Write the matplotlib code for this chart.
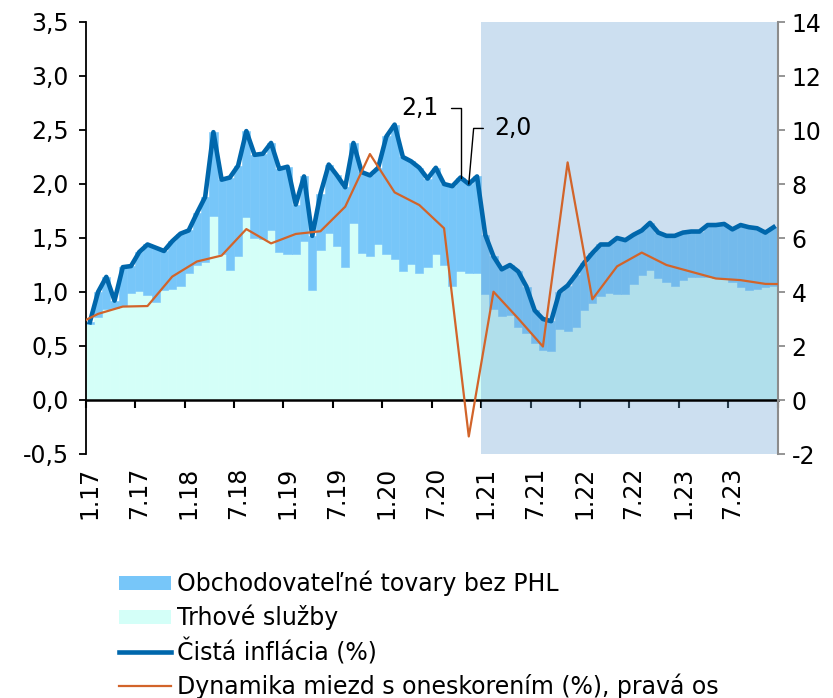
import matplotlib.pyplot as plt
import numpy as np
from matplotlib.patches import Patch
from matplotlib.lines import Line2D

plt.rcParams["axes.unicode_minus"] = False

# mesacne udaje 1.17 - 12.23
mesiace = [f"{m}.{r}" for r in range(17, 24) for m in range(1, 13)]
popisky = [f"{m}.{r}" for r in range(17, 24) for m in (1, 7)]

# trhove sluzby (stlpce, lava os)
sluzby = [0.70, 0.77, 0.84, 0.85, 0.87, 0.99, 1.01, 0.97, 0.91, 1.02, 1.03, 1.06,
          1.18, 1.25, 1.28, 1.70, 1.35, 1.20, 1.33, 1.69, 1.50, 1.49, 1.57, 1.37,
          1.35, 1.35, 1.47, 1.02, 1.39, 1.55, 1.43, 1.23, 1.64, 1.36, 1.33, 1.44,
          1.35, 1.31, 1.19, 1.26, 1.18, 1.23, 1.35, 1.25, 1.06, 1.19, 1.18, 1.18,
          0.98, 0.84, 0.78, 0.79, 0.68, 0.62, 0.53, 0.46, 0.45, 0.66, 0.64, 0.68,
          0.83, 0.90, 0.96, 0.99, 0.98, 0.98, 1.07, 1.16, 1.20, 1.13, 1.09, 1.06,
          1.11, 1.14, 1.14, 1.14, 1.13, 1.13, 1.09, 1.05, 1.02, 1.03, 1.05, 1.06]

# obchodovatelne tovary bez PHL (stlpce nad sluzbami)
tovary = [0.02, 0.23, 0.30, 0.07, 0.36, 0.25, 0.36, 0.47, 0.50, 0.36, 0.44, 0.48,
          0.39, 0.48, 0.60, 0.78, 0.69, 0.86, 0.84, 0.80, 0.77, 0.79, 0.81, 0.77,
          0.81, 0.46, 0.60, 0.50, 0.52, 0.63, 0.65, 0.74, 0.74, 0.75, 0.75, 0.71,
          1.09, 1.24, 1.06, 0.95, 0.97, 0.82, 0.80, 0.75, 0.92, 0.87, 0.82, 0.89,
          0.55, 0.49, 0.43, 0.46, 0.51, 0.43, 0.30, 0.29, 0.28, 0.34, 0.42, 0.48,
          0.44, 0.46, 0.48, 0.45, 0.52, 0.50, 0.46, 0.41, 0.44, 0.42, 0.43, 0.46,
          0.44, 0.42, 0.42, 0.48, 0.49, 0.50, 0.49, 0.57, 0.58, 0.56, 0.50, 0.54]

# cista inflacia (%)
inflacia = [0.72, 1.00, 1.14, 0.92, 1.23, 1.24, 1.37, 1.44, 1.41, 1.38, 1.47, 1.54,
            1.57, 1.73, 1.88, 2.48, 2.04, 2.06, 2.17, 2.49, 2.27, 2.28, 2.38, 2.14,
            2.16, 1.81, 2.07, 1.52, 1.91, 2.18, 2.08, 1.97, 2.38, 2.11, 2.08, 2.15,
            2.44, 2.55, 2.25, 2.21, 2.15, 2.05, 2.15, 2.00, 1.98, 2.06, 2.00, 2.07,
            1.53, 1.33, 1.21, 1.25, 1.19, 1.05, 0.83, 0.75, 0.73, 1.00, 1.06, 1.16,
            1.27, 1.36, 1.44, 1.44, 1.50, 1.48, 1.53, 1.57, 1.64, 1.55, 1.52, 1.52,
            1.55, 1.56, 1.56, 1.62, 1.62, 1.63, 1.58, 1.62, 1.60, 1.59, 1.55, 1.60]

# dynamika miezd s oneskorenim (stvrtrocne, stredny mesiac stvrtroka; prava os)
mzdy_mesiac = list(range(-2, 86, 3))
mzdy = [2.73, 3.19, 3.46, 3.48, 4.57, 5.13, 5.35, 6.33, 5.80, 6.15,
        6.25, 7.16, 9.11, 7.69, 7.22, 6.36, -1.35, 4.01, 3.02, 1.98,
        8.80, 3.73, 4.95, 5.46, 5.00, 4.75, 4.50, 4.44, 4.30, 4.29]

# zaciatok prognozy (od 1.21)
prognoza_od = mesiace.index("1.21") - 0.5

c_sluzby = "#D4FFF8"
c_tovary = "#77C6F9"
c_infl = "#0067AC"
c_mzdy = "#D2642A"

W, H = 833, 698
fig = plt.figure(figsize=(W / 100, H / 100), dpi=100)
ax = fig.add_axes([85.7 / W, 1 - 454 / H, 692 / W, 432 / H])
ax2 = ax.twinx()

x = np.arange(len(mesiace))
ax.bar(x, sluzby, width=1.0, color=c_sluzby, edgecolor=c_sluzby, linewidth=0.4, zorder=1)
ax.bar(x, tovary, bottom=sluzby, width=1.0, color=c_tovary, edgecolor=c_tovary,
       linewidth=0.4, zorder=1)
ax.axvspan(prognoza_od, len(mesiace) - 0.5, color="#6DA6D4", alpha=0.35, lw=0, zorder=2)
ax.plot(x, inflacia, color=c_infl, lw=3.3, solid_joinstyle="round", zorder=4)
ax2.plot(mzdy_mesiac, mzdy, color=c_mzdy, lw=1.6, zorder=3)

ax.set_xlim(-0.5, len(mesiace) - 0.5)
ax.set_ylim(-0.5, 3.5)
ax2.set_ylim(-2, 14)

# osi
for s in ["top", "right"]:
    ax.spines[s].set_visible(False)
for s in ["top", "left", "bottom"]:
    ax2.spines[s].set_visible(False)
ax.spines["bottom"].set_position(("data", 0))
ax.spines["bottom"].set_linewidth(1.8)
ax.spines["left"].set_linewidth(1.3)
ax2.spines["right"].set_color("#8C8C8C")
ax2.spines["right"].set_linewidth(1.5)

yt = np.arange(-0.5, 3.51, 0.5)
ax.set_yticks(yt)
ax.set_yticklabels([f"{v:.1f}".replace(".", ",") for v in yt])
ax.tick_params(axis="y", direction="out", length=5, width=1.3, pad=7, labelsize=17)

ax2.set_yticks(range(-2, 15, 2))
ax2.tick_params(axis="y", direction="out", length=5, width=1.3, color="#8C8C8C",
                pad=5, labelsize=17)

ax.set_xticks([mesiace.index(p) for p in popisky])
ax.set_xticklabels(popisky, rotation=90)
ax.set_xticks(np.arange(-0.5, len(mesiace), 6), minor=True)
ax.tick_params(axis="x", which="major", length=0, pad=48, labelsize=17)
ax.tick_params(axis="x", which="minor", direction="out", length=6, width=1.5)

# popisky poslednych hodnot
i1 = mesiace.index("10.20")
i2 = mesiace.index("11.20")
ax.annotate(f"{inflacia[i1]:.1f}".replace(".", ","), xy=(i1, inflacia[i1]),
            xytext=(-16, 50), textcoords="offset points", ha="right", va="center",
            fontsize=17, zorder=6,
            arrowprops=dict(arrowstyle="-", color="black", lw=1, shrinkA=7, shrinkB=0,
                            relpos=(1, 0.5),
                            connectionstyle="angle,angleA=0,angleB=90,rad=0"))
ax.annotate(f"{inflacia[i2]:.1f}".replace(".", ","), xy=(i2, inflacia[i2]),
            xytext=(18.5, 40), textcoords="offset points", ha="left", va="center",
            fontsize=17, zorder=6,
            arrowprops=dict(arrowstyle="-", color="black", lw=1, shrinkA=6, shrinkB=0,
                            relpos=(0, 0.5),
                            connectionstyle="angle,angleA=0,angleB=85,rad=0"))

# legenda
handles = [Patch(facecolor=c_tovary), Patch(facecolor=c_sluzby),
           Line2D([], [], color=c_infl, lw=3.3), Line2D([], [], color=c_mzdy, lw=1.6)]
labels = ["Obchodovateľné tovary bez PHL", "Trhové služby", "Čistá inflácia (%)",
          "Dynamika miezd s oneskorením (%), pravá os"]
fig.legend(handles, labels, loc="upper left", bbox_to_anchor=(119 / W, 1 - 571 / H),
           frameon=False, fontsize=17, handlelength=2.2, handleheight=0.55,
           handletextpad=0.25, labelspacing=0.34, borderpad=0, borderaxespad=0)

fig.savefig("out.png", dpi=100)
